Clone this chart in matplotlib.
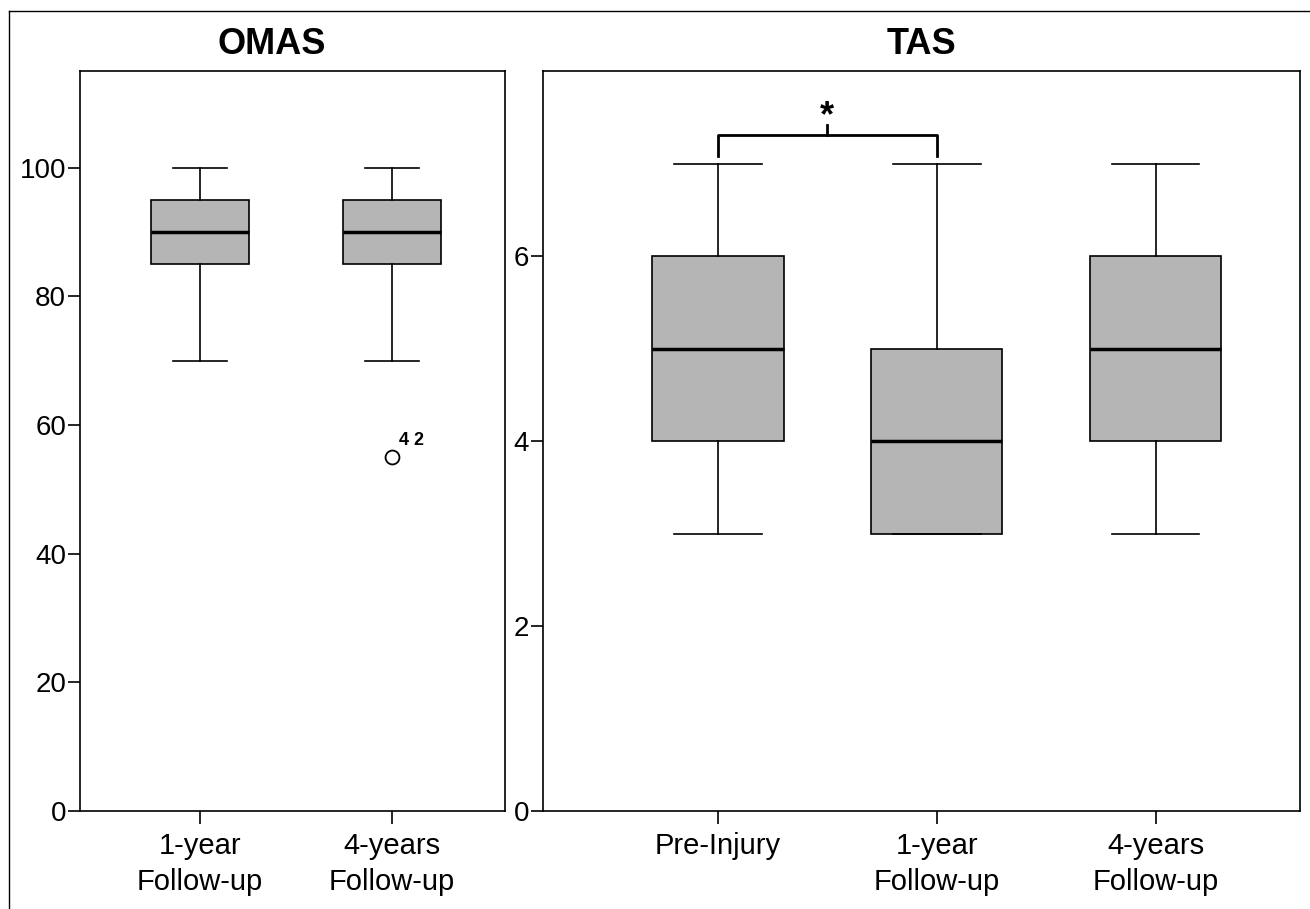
import matplotlib.pyplot as plt
from matplotlib.lines import Line2D

plt.rcParams['font.family'] = ['Liberation Sans', 'DejaVu Sans']

# OMAS
omas_labels = ['1-year\nFollow-up', '4-years\nFollow-up']
omas_low = [70, 70]
omas_q1 = [85, 85]
omas_med = [90, 90]
omas_q3 = [95, 95]
omas_high = [100, 100]
omas_fliers = [[], [55]]
omas_flier_ids = [[], ['4 2']]

# TAS
tas_labels = ['Pre-Injury', '1-year\nFollow-up', '4-years\nFollow-up']
tas_low = [3, 3, 3]
tas_q1 = [4, 3, 4]
tas_med = [5, 4, 5]
tas_q3 = [6, 5, 6]
tas_high = [7, 7, 7]


def make_stats(lo, q1, med, q3, hi, fl=None):
    out = []
    for i in range(len(lo)):
        out.append(dict(whislo=lo[i], q1=q1[i], med=med[i], q3=q3[i], whishi=hi[i],
                        fliers=(fl[i] if fl else [])))
    return out


fig = plt.figure(figsize=(13.1, 9.09), dpi=100)
W, H = 1310, 909
ax1 = fig.add_axes([80 / W, 1 - 811 / H, 425 / W, 740 / H])
ax2 = fig.add_axes([543 / W, 1 - 811 / H, 757 / W, 740 / H])

box_kw = dict(patch_artist=True, showfliers=True,
              boxprops=dict(facecolor='#b5b5b5', edgecolor='black', linewidth=1.2),
              medianprops=dict(color='black', linewidth=2.5),
              whiskerprops=dict(color='black', linewidth=1.2),
              capprops=dict(color='black', linewidth=1.2),
              flierprops=dict(marker='o', markerfacecolor='white', markeredgecolor='black',
                              markersize=10, markeredgewidth=1.3))

ax1.bxp(make_stats(omas_low, omas_q1, omas_med, omas_q3, omas_high, omas_fliers),
        positions=[1, 2], widths=0.51, capwidths=0.28, **box_kw)
ax1.set_xlim(0.375, 2.59)
ax1.set_ylim(0, 115)
ax1.set_yticks([0, 20, 40, 60, 80, 100])
ax1.set_xticks([1, 2])
ax1.set_xticklabels(omas_labels, linespacing=1.35)
for i, (vals, ids) in enumerate(zip(omas_fliers, omas_flier_ids)):
    for v, t in zip(vals, ids):
        ax1.annotate(t, (i + 1, v), xytext=(5, 6), textcoords='offset points',
                     fontsize=13, fontweight='bold', ha='left', va='bottom')
ax1.set_title('OMAS', fontsize=26, fontweight='bold', pad=12, x=0.45)

ax2.bxp(make_stats(tas_low, tas_q1, tas_med, tas_q3, tas_high),
        positions=[1, 2, 3], widths=0.6, capwidths=0.4, **box_kw)
ax2.set_xlim(0.2, 3.66)
ax2.set_ylim(0, 8)
ax2.set_yticks([0, 2, 4, 6])
ax2.set_xticks([1, 2, 3])
ax2.set_xticklabels(tas_labels, linespacing=1.35)
ax2.set_title('TAS', fontsize=26, fontweight='bold', pad=12)

# significance bracket between Pre-Injury and 1-year
y_leg, y_bar, y_tip = 7.08, 7.31, 7.42
ax2.plot([1, 1, 2, 2], [y_leg, y_bar, y_bar, y_leg], color='black', linewidth=2)
ax2.plot([1.5, 1.5], [y_bar, y_tip], color='black', linewidth=2)
ax2.text(1.5, y_tip - 0.1, '*', ha='center', va='bottom', fontsize=26, fontweight='bold')

for ax in (ax1, ax2):
    ax.tick_params(axis='both', direction='out', length=9, width=1.2, colors='black')
    ax.tick_params(axis='y', labelsize=20, pad=1)
    ax.tick_params(axis='x', labelsize=21, pad=6)
    for s in ax.spines.values():
        s.set_linewidth(1.2)

# outer frame lines
fig.add_artist(Line2D([9 / W, 9 / W], [0, 1 - 11 / H], color='black', linewidth=1,
                      transform=fig.transFigure))
fig.add_artist(Line2D([9 / W, 1], [1 - 11 / H, 1 - 11 / H], color='black', linewidth=1,
                      transform=fig.transFigure))

fig.savefig('out.png', dpi=100)
